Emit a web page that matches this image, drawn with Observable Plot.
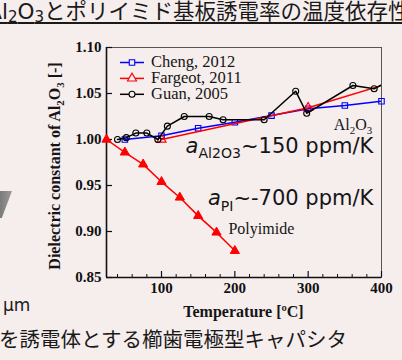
<!DOCTYPE html>
<html><head><meta charset="utf-8">
<script src="https://cdn.jsdelivr.net/npm/d3@7"></script>
<script src="https://cdn.jsdelivr.net/npm/@observablehq/plot@0.6"></script>
<style>
html,body{margin:0;padding:0;background:#f6eded;}
#wrap{position:relative;width:402px;height:360px;overflow:hidden;background:#f6eded;}
#chart{position:absolute;left:0;top:0;}
.t{position:absolute;white-space:nowrap;line-height:1;color:#1a1a1a;}
#title{top:-1px;left:-14px;font-family:"Noto Sans CJK JP";font-size:21.5px;text-decoration:underline;text-decoration-thickness:1.5px;text-underline-offset:3px;}
#title .lat{font-family:"DejaVu Sans";}
#title sub{font-size:0.7em;vertical-align:-0.2em;line-height:0}
#bottom{top:328px;left:-1px;font-family:"Noto Sans CJK JP";font-size:20.5px;}
#um{top:297px;left:3px;font-family:"DejaVu Sans";font-size:17px;}
#shape{position:absolute;left:0;top:191px;width:12px;height:27px;background:linear-gradient(90deg,#7a7a7a,#9c9c9c);clip-path:polygon(0 0,100% 0,15% 100%,0 100%);}
</style></head>
<body><div id="wrap">
<div id="chart"></div>
<div id="shape"></div>
<div id="title" class="t"></div>
<div id="um" class="t"></div>
<div id="bottom" class="t"></div>
</div>
<script>
// ---- data ----
const chengT = [50, 100, 150, 200, 250, 300, 350, 400];
const chengV = [1.000, 1.004, 1.0123, 1.0188, 1.026, 1.0334, 1.037, 1.0416];

const fargeotPiT = [25, 50, 75, 100, 125, 150, 175, 200];
const fargeotPiV = [1.000, 0.986, 0.973, 0.954, 0.937, 0.917, 0.899, 0.879];

const fargeotAlT = [100, 300, 420];
const fargeotAlV = [1.000, 1.0345, 1.0635];

const guanT = [40, 52, 65, 80, 95, 108, 131, 165, 184, 240, 283, 298, 361, 390, 420];
const guanV = [1.000, 1.002, 1.007, 1.007, 1.000, 1.0145, 1.025, 1.025, 1.0215, 1.0215, 1.0525, 1.0285, 1.0587, 1.0551, 1.068];

const xMajor = [100, 200, 300, 400];
const xMinor = [40, 60, 80, 120, 140, 160, 180, 220, 240, 260, 280, 320, 340, 360, 380];
const yTicks = [0.85, 0.90, 0.95, 1.00, 1.05, 1.10];
const xDomain = [25, 400];
const yDomain = [0.85, 1.10];

const legendLabels = ["Cheng, 2012", "Fargeot, 2011", "Guan, 2005"];
const xTitle = "Temperature [ºC]";
const yTitleParts = [["Dielectric constant of Al"], ["2", "s"], ["O"], ["3", "s"], [" [-]"]];
const alLabelParts = [["Al"], ["2", "s"], ["O"], ["3", "s"]];
const piLabel = "Polyimide";
const coefAlParts = [["a", "i"], ["Al2O3", "s"], ["~150 ppm/K"]];
const coefPiParts = [["a", "i"], ["PI", "s"], ["~-700 ppm/K"]];
const titleChem = ["Al", "2", "O", "3"];
const titleRest = "とポリイミド基板誘電率の温度依存性";
const bottomText = "を誘電体とする櫛歯電極型キャパシタ";
const umText = "μm";

// ---- tables ----
const toRows = (T, V) => T.map((t, i) => ({T: t, v: V[i]}));
const cheng = toRows(chengT, chengV);
const fPi = toRows(fargeotPiT, fargeotPiV);
const fAl = toRows(fargeotAlT, fargeotAlV);
const guan = toRows(guanT, guanV);
const inside = d => d.T <= xDomain[1];

const serif = "Liberation Serif";
const lw = 1.5;

const chart = Plot.plot({
  width: 402, height: 360,
  marginLeft: 106, marginRight: 21, marginTop: 47, marginBottom: 83,
  style: {background: "transparent", fontFamily: serif, overflow: "visible", color: "#111"},
  x: {domain: xDomain},
  y: {domain: yDomain},
  marks: [
    Plot.frame({stroke: "#555", strokeWidth: 1}),
    Plot.axisX({ticks: xMajor, tickSize: 0, tickPadding: 5, tickFormat: d => String(d), fontSize: 15, fontWeight: "bold", label: null}),
    Plot.axisY({ticks: yTicks, tickSize: 0, tickPadding: 5, tickFormat: d3.format(".2f"), fontSize: 15, fontWeight: "bold", label: null}),
    Plot.tickX(xMajor, {x: d => d, insetTop: 224, stroke: "#111", strokeWidth: 1.2}),
    Plot.tickX(xMinor, {x: d => d, insetTop: 227, stroke: "#111", strokeWidth: 1}),
    Plot.tickY(yTicks, {y: d => d, insetRight: 269, stroke: "#111", strokeWidth: 1.2}),
    Plot.ruleX([xDomain[0]], {stroke: "#111", strokeWidth: 1.6}),
    Plot.ruleY([yDomain[0]], {stroke: "#111", strokeWidth: 1.6}),
    // Cheng
    Plot.line(cheng, {x: "T", y: "v", stroke: "#0000ff", strokeWidth: lw, clip: true}),
    Plot.dot(cheng.filter(inside), {x: "T", y: "v", symbol: "square", r: 3.1, stroke: "#0000ff", fill: "none", strokeWidth: 1.1}),
    // Fargeot
    Plot.line(fPi, {x: "T", y: "v", stroke: "#ff0000", strokeWidth: lw}),
    Plot.dot(fPi, {x: "T", y: "v", symbol: "triangle", r: 3.4, fill: "#ff0000", stroke: "#ff0000", strokeWidth: 1}),
    Plot.line(fAl, {x: "T", y: "v", stroke: "#ff0000", strokeWidth: lw, clip: true}),
    Plot.dot(fAl.filter(inside), {x: "T", y: "v", symbol: "triangle", r: 3.4, fill: "none", stroke: "#ff0000", strokeWidth: 1.1}),
    // Guan
    Plot.line(guan, {x: "T", y: "v", stroke: "#000", strokeWidth: lw, clip: true}),
    Plot.dot(guan.filter(inside), {x: "T", y: "v", symbol: "circle", r: 3, fill: "none", stroke: "#000", strokeWidth: 1.1})
  ]
});
document.getElementById("chart").appendChild(chart);

const xs = chart.scale("x"), ys = chart.scale("y");
const svg = d3.select(chart);

function rich(x, y, parts, {size, family, weight = "normal", anchor = "start", subScale = 0.68, subShift = 0.27, transform = null}) {
  const t = svg.append("text").attr("x", x).attr("y", y)
    .attr("font-size", size).attr("font-family", family).attr("font-weight", weight)
    .attr("text-anchor", anchor).attr("fill", "#151515");
  if (transform) t.attr("transform", transform);
  let shifted = 0;
  for (const [s, k] of parts) {
    const ts = t.append("tspan").text(s);
    const target = k === "s" ? size * subShift : 0;
    ts.attr("dy", target - shifted); shifted = target;
    if (k === "s") ts.attr("font-size", size * subScale);
    if (k === "i") ts.attr("font-style", "italic");
  }
  return t;
}

// axis titles
const cx = (xs.range[0] + xs.range[1]) / 2;
rich(cx, 317, [[xTitle]], {size: 16, family: serif, weight: "bold", anchor: "middle"});
rich(0, 0, yTitleParts, {size: 16, family: serif, weight: "bold", anchor: "middle", transform: "translate(60,166) rotate(-90)"});

// annotations
rich(xs.apply(388), ys.apply(1.0098), alLabelParts, {size: 16, family: serif, anchor: "end"});
rich(xs.apply(192), ys.apply(0.8967), [[piLabel]], {size: 16, family: serif, anchor: "start"});
rich(xs.apply(389.5), ys.apply(0.9851), coefAlParts, {size: 21, family: "DejaVu Sans", anchor: "end", subScale: 0.67, subShift: 0.27});
rich(xs.apply(389.5), ys.apply(0.9283), coefPiParts, {size: 21, family: "DejaVu Sans", anchor: "end", subScale: 0.67, subShift: 0.27});

// legend
const legendStyles = [
  {color: "#0000ff", sym: d3.symbolSquare, size: 30},
  {color: "#ff0000", sym: d3.symbolTriangle, size: 36},
  {color: "#000000", sym: d3.symbolCircle, size: 28}
];
const lg = svg.append("g");
legendLabels.forEach((name, i) => {
  const st = legendStyles[i];
  const yb = 67 + i * 15.9, ym = yb - 4.5;
  lg.append("line").attr("x1", 120).attr("x2", 144).attr("y1", ym).attr("y2", ym)
    .attr("stroke", st.color).attr("stroke-width", lw);
  lg.append("path").attr("d", d3.symbol(st.sym, st.size)()).attr("transform", `translate(132,${ym})`)
    .attr("fill", "#f6eded").attr("stroke", st.color).attr("stroke-width", 1.1);
  lg.append("text").attr("x", 151).attr("y", yb).attr("font-family", serif).attr("font-size", 16.5)
    .attr("text-anchor", "start").attr("fill", "#151515").text(name);
});

// HTML texts
const title = document.getElementById("title");
title.innerHTML = `<span class="lat">${titleChem[0]}<sub>${titleChem[1]}</sub>${titleChem[2]}<sub>${titleChem[3]}</sub></span><span id="tB">${titleRest}</span>`;
const tb = document.getElementById("tB").getBoundingClientRect();
title.style.left = (-14 + 44 - tb.left) + "px";
document.getElementById("bottom").textContent = bottomText;
document.getElementById("um").textContent = umText;
</script></body></html>
